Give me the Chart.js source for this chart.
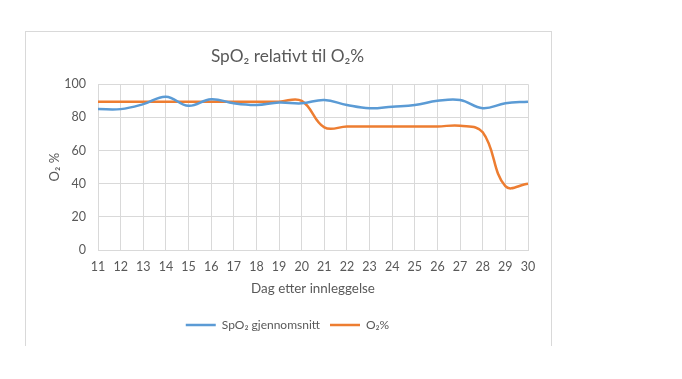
<!DOCTYPE html>
<html>
<head>
<meta charset="utf-8">
<script src="https://cdn.jsdelivr.net/npm/chart.js@4"></script>
<style>
  body { margin: 0; background: #fff; }
  #box {
    position: absolute; left: 25px; top: 31px; width: 525px; height: 314px;
    border-left: 1px solid #d9d9d9; border-top: 1px solid #d9d9d9; border-right: 1px solid #d9d9d9;
  }
</style>
</head>
<body>
<div id="box"><canvas id="chart"></canvas></div>
<script>
var days = ['11','12','13','14','15','16','17','18','19','20','21','22','23','24','25','26','27','28','29','30'];
var spo2 = [85, 85, 88, 92.5, 87, 91, 88.5, 87.5, 89, 88.5, 90.5, 87.5, 85.5, 86.5, 87.5, 90, 90.5, 85.5, 88.5, 89.5];
var o2 = [89.5, 89.5, 89.5, 89.5, 89.5, 89.5, 89.5, 89.5, 89.5, 90, 74, 74.5, 74.5, 74.5, 74.5, 74.5, 75, 71, 38.5, 40];
var yTicks = [0, 20, 40, 60, 80, 100];

var font = "Lato, 'Open Sans', sans-serif";
var grey = '#595959';

var ctx = document.getElementById('chart').getContext('2d');
var myChart = new Chart(ctx, {
  type: 'line',
  data: {
    labels: days,
    datasets: [{
      label: 'SpO\u2082 gjennomsnitt',
      data: spo2,
      borderColor: '#5b9bd5',
      backgroundColor: '#5b9bd5',
      borderWidth: 2.5,
      pointRadius: 0,
      tension: 0.4
    }, {
      label: 'O\u2082%',
      data: o2,
      borderColor: '#ed7d31',
      backgroundColor: '#ed7d31',
      borderWidth: 2.5,
      pointRadius: 0,
      tension: 0.4
    }]
  },
  options: {
    responsive: true,
    maintainAspectRatio: false,
    animation: false,
    layout: { padding: { left: 21, right: 23, top: 0, bottom: 5 } },
    plugins: {
      title: {
        display: true,
        text: 'SpO\u2082 relativt til O\u2082%',
        color: grey,
        font: { family: font, size: 17.3, weight: 'normal' },
        padding: { top: 14, bottom: 17.5 }
      },
      legend: {
        position: 'bottom',
        labels: {
          color: grey,
          font: { family: font, size: 12 },
          usePointStyle: true,
          pointStyle: 'line',
          pointStyleWidth: 30,
          boxWidth: 30,
          padding: 10
        }
      },
      tooltip: { enabled: false }
    },
    scales: {
      x: {
        offset: false,
        afterFit: function (scale) { scale.height = 59; },
        grid: { color: '#d9d9d9', drawTicks: false, offset: false },
        border: { color: '#d9d9d9' },
        ticks: { color: grey, font: { family: font, size: 12.5 }, padding: 9, maxRotation: 0, autoSkip: false },
        title: {
          display: true,
          text: 'Dag etter innleggelse',
          color: grey,
          font: { family: font, size: 13.4 },
          padding: { top: 4, bottom: 12 }
        }
      },
      y: {
        min: 0,
        max: 100,
        afterFit: function (scale) { scale.width = 51; },
        afterBuildTicks: function (scale) {
          scale.ticks = yTicks.map(function (v) { return { value: v }; });
        },
        grid: { color: '#d9d9d9', drawTicks: false },
        border: { color: '#d9d9d9' },
        ticks: { color: grey, font: { family: font, size: 12.5 }, padding: 12 },
        title: {
          display: true,
          text: 'O\u2082 %',
          color: grey,
          font: { family: font, size: 13 },
          padding: { top: 0, bottom: 3 }
        }
      }
    }
  }
});
</script>
</body>
</html>
